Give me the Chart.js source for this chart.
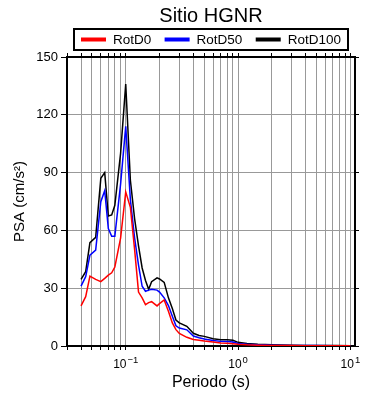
<!DOCTYPE html>
<html>
<head>
<meta charset="utf-8">
<script src="https://cdn.jsdelivr.net/npm/chart.js@4/dist/chart.umd.min.js"></script>
<style>
  html, body { margin: 0; padding: 0; background: #fff; }
  #wrap { width: 390px; height: 400px; }
</style>
</head>
<body>
<div id="wrap"><canvas id="psaChart" width="390" height="400"></canvas></div>
<script>
const FONT = "'Liberation Sans', Arial, sans-serif";

// periods (s)
const periods = [0.04, 0.044, 0.048, 0.054, 0.06, 0.065, 0.07, 0.075, 0.08, 0.09,
  0.1, 0.11, 0.12, 0.13, 0.14, 0.15, 0.16, 0.17, 0.19, 0.2,
  0.22, 0.24, 0.26, 0.28, 0.3, 0.35, 0.4, 0.45, 0.5, 0.6,
  0.7, 0.8, 0.9, 1.0, 1.2, 1.5, 2, 3, 4, 5, 7.5, 10];

const rotD0 = [20.8, 25.6, 36.3, 34.6, 33.4, 35.1, 36.8, 38, 41, 56,
  80, 72, 50, 28, 25, 21.5, 22.5, 23, 20.8, 22,
  23.9, 18, 12, 8.5, 6.5, 4.5, 3.4, 3.0, 2.6, 2.1,
  1.6, 1.4, 1.2, 0.9, 0.6, 0.4, 0.3, 0.2, 0.15, 0.1, 0.1, 0.1];

const rotD50 = [31.1, 36, 47.2, 49.8, 74.9, 80.6, 61, 57, 57, 84,
  114, 76, 56, 42, 31, 28.4, 29, 29.5, 29, 28,
  25, 21, 15.5, 10.5, 9.3, 8.4, 5.2, 4.3, 3.6, 2.9,
  2.4, 2.3, 2.1, 1.3, 0.9, 0.6, 0.4, 0.3, 0.2, 0.2, 0.15, 0.1];

const rotD100 = [34.6, 38.6, 53.6, 56.4, 87, 90, 67.5, 68, 73, 100,
  136, 86, 66, 52, 40.5, 34, 29.4, 33.4, 35.4, 34.8,
  33, 25, 19.5, 13.5, 12, 10.2, 6.6, 5.5, 5.0, 3.8,
  3.2, 3.3, 3.0, 1.9, 1.3, 0.9, 0.6, 0.4, 0.3, 0.25, 0.2, 0.15];

const seriesNames = ['RotD0', 'RotD50', 'RotD100'];
const seriesColors = ['#ff0000', '#0000ff', '#000000'];

const xTickValues = [0.03, 0.04, 0.05, 0.06, 0.07, 0.08, 0.09,
  0.1, 0.2, 0.3, 0.4, 0.5, 0.6, 0.7, 0.8, 0.9,
  1, 2, 3, 4, 5, 6, 7, 8, 9, 10];
// labelled decades: value -> exponent
const xMajorValues = [0.1, 1, 10];
const xMajorExponents = ['\u22121', '0', '1'];
const yTickValues = [0, 30, 60, 90, 120, 150];

const toPoints = (vals) => periods.map((p, i) => ({ x: p, y: vals[i] }));

// boxed legend in the gap between the title and the plot
const boxedLegend = {
  id: 'boxedLegend',
  afterDraw(chart) {
    const c = chart.ctx;
    const area = chart.chartArea;
    const boxW = 274, boxH = 21;
    const left = (area.left + area.right) / 2 - boxW / 2;
    const top = area.top - 28;
    const lineW = 25, gap = 7;
    c.save();
    c.font = '13.5px ' + FONT;
    c.textBaseline = 'middle';
    const widths = seriesNames.map(n => lineW + gap + c.measureText(n).width);
    const free = (boxW - 14 - widths.reduce((a, b) => a + b, 0)) / (seriesNames.length - 1);
    let x = left + 7;
    const cy = top + boxH / 2;
    seriesNames.forEach((name, i) => {
      c.fillStyle = seriesColors[i];
      c.fillRect(x, cy - 2, lineW, 4);
      c.fillStyle = '#000';
      c.fillText(name, x + lineW + gap, cy + 0.5);
      x += widths[i] + free;
    });
    c.strokeStyle = '#000';
    c.lineWidth = 2;
    c.strokeRect(left, top, boxW, boxH);
    c.restore();
  }
};

// power-of-ten labels with a raised exponent under the x axis
const decadeLabels = {
  id: 'decadeLabels',
  afterDraw(chart) {
    const c = chart.ctx;
    const sx = chart.scales.x;
    const base = sx.top + 22;
    c.save();
    c.fillStyle = '#000';
    c.textBaseline = 'alphabetic';
    c.textAlign = 'left';
    xMajorValues.forEach((v, i) => {
      const px = sx.getPixelForValue(v);
      c.font = '12px ' + FONT;
      const w1 = c.measureText('10').width;
      c.font = '9.5px ' + FONT;
      const w2 = c.measureText(xMajorExponents[i]).width;
      const x0 = px - (w1 + 1 + w2) / 2;
      c.font = '12px ' + FONT;
      c.fillText('10', x0, base);
      c.font = '9.5px ' + FONT;
      c.fillText(xMajorExponents[i], x0 + w1 + 1, base - 5);
    });
    c.restore();
  }
};

const ctx = document.getElementById('psaChart').getContext('2d');

const psaChart = new Chart(ctx, {
  type: 'line',
  data: {
    datasets: [rotD0, rotD50, rotD100].map((vals, i) => ({
      label: seriesNames[i],
      data: toPoints(vals),
      borderColor: seriesColors[i],
      backgroundColor: seriesColors[i],
      borderWidth: 1.5,
      pointRadius: 0,
      tension: 0,
      xAxisID: 'x',
      yAxisID: 'y'
    }))
  },
  options: {
    responsive: false,
    animation: false,
    layout: { padding: { top: 0, right: 31, bottom: 8, left: 0 } },
    plugins: {
      title: {
        display: true,
        text: 'Sitio HGNR',
        fullSize: false,
        color: '#000',
        font: { family: FONT, size: 20, weight: 'normal' },
        padding: { top: 4, bottom: 29 }
      },
      legend: { display: false },
      tooltip: { enabled: false }
    },
    scales: {
      x: {
        type: 'logarithmic',
        position: 'bottom',
        min: 0.03,
        max: 11,
        afterBuildTicks: (s) => { s.ticks = xTickValues.map(v => ({ value: v })); },
        ticks: { display: false },
        grid: { color: '#999', lineWidth: 1, tickLength: 4, tickColor: '#000' },
        border: { color: '#000', width: 2 },
        title: {
          display: true,
          text: 'Periodo (s)',
          color: '#000',
          font: { family: FONT, size: 16 },
          padding: { top: 22.8, bottom: 0 }
        }
      },
      x2: {
        type: 'logarithmic',
        position: 'top',
        min: 0.03,
        max: 11,
        afterBuildTicks: (s) => { s.ticks = xTickValues.map(v => ({ value: v })); },
        ticks: { display: false },
        grid: { drawOnChartArea: false, tickLength: 4, tickColor: '#000' },
        border: { color: '#000', width: 2 },
        afterFit: (s) => { s.height = 0; }
      },
      y: {
        type: 'linear',
        position: 'left',
        min: 0,
        max: 150,
        afterBuildTicks: (s) => { s.ticks = yTickValues.map(v => ({ value: v })); },
        ticks: {
          color: '#000',
          padding: 3,
          font: { family: FONT, size: 13 }
        },
        grid: { color: '#999', lineWidth: 1, tickLength: 6, tickColor: '#000' },
        border: { color: '#000', width: 2 },
        title: {
          display: true,
          text: 'PSA (cm/s\u00B2)',
          color: '#000',
          font: { family: FONT, size: 15 },
          padding: { top: 11, bottom: 4 }
        },
        afterFit: (s) => { s.width = 67; }
      },
      y2: {
        type: 'linear',
        position: 'right',
        min: 0,
        max: 150,
        afterBuildTicks: (s) => { s.ticks = yTickValues.map(v => ({ value: v })); },
        ticks: { display: false },
        grid: { drawOnChartArea: false, tickLength: 4, tickColor: '#000' },
        border: { color: '#000', width: 2 }
      }
    }
  },
  plugins: [boxedLegend, decadeLabels]
});
</script>
</body>
</html>
